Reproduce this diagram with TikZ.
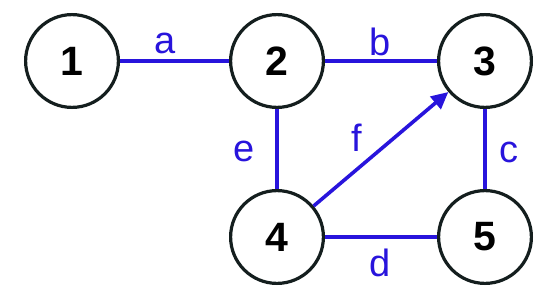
\documentclass[tikz,border=0pt]{standalone}
\usepackage{fontspec}
\setmainfont{Liberation Sans}
\usetikzlibrary{arrows.meta}
\definecolor{edgeblue}{RGB}{40,20,220}
\definecolor{ringcol}{RGB}{20,30,30}
\begin{document}
\begin{tikzpicture}[x=0.5pt,y=-0.5pt,
  vertex/.style={circle,draw=ringcol,line width=1.6pt,minimum size=46.4pt,inner sep=0pt,font=\fontsize{20.5}{23}\selectfont\bfseries},
  edge/.style={draw=edgeblue,line width=1.8pt},
  elabel/.style={text=edgeblue,font=\fontsize{19}{22}\selectfont,inner sep=0pt}]
\useasboundingbox (0,0) rectangle (551,300);
\node[vertex] (n1) at (72,61) {1};
\node[vertex] (n2) at (277,61) {2};
\node[vertex] (n3) at (485,61) {3};
\node[vertex] (n4) at (277,237) {4};
\node[vertex] (n5) at (485,237) {5};
\draw[edge] (n1) -- (n2);
\draw[edge] (n2) -- (n3);
\draw[edge] (n3) -- (n5);
\draw[edge] (n2) -- (n4);
\draw[edge] (n4) -- (n5);
\draw[edge,-{Triangle[length=8.5pt,width=8pt]}] (n4) -- (n3);
\node[elabel] (la) at (165,43) {a};
\node[elabel] (lb) at (380,42) {b};
\node[elabel] (lc) at (509,152) {c};
\node[elabel] (le) at (244,151) {e};
\node[elabel] (lf) at (357,138) {f};
\node[elabel] (ld) at (380,263) {d};
\end{tikzpicture}
\end{document}
